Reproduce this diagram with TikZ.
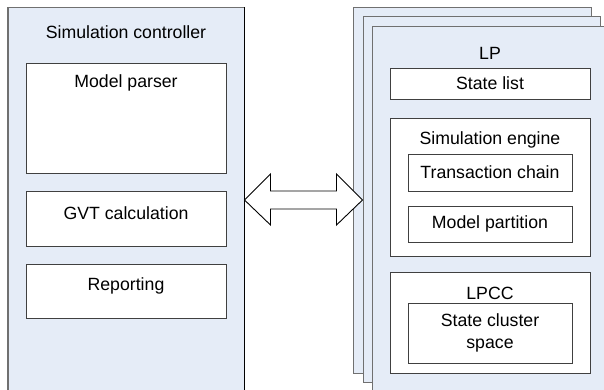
\documentclass[tikz,border=0pt]{standalone}
\usepackage{fontspec}
\setmainfont{Liberation Sans}
\definecolor{panelfill}{HTML}{E5ECF7}
\definecolor{panelline}{HTML}{707070}
\definecolor{boxline}{HTML}{404040}
\begin{document}
\begin{tikzpicture}[x=1pt,y=-1pt,
  every node/.style={font=\fontsize{17.7}{21}\selectfont, inner sep=0pt},
  panel/.style={draw=panelline, fill=panelfill, line width=1pt, rectangle},
  inbox/.style={draw=boxline, fill=white, line width=0.9pt, rectangle},
  lbl/.style={text=black}]
\useasboundingbox (0,0) rectangle (604,390);
\clip (0,0) rectangle (604,390);
% left panel
\node[panel, minimum width=236pt, minimum height=392pt] (sc) at (126,204) {};
\draw[black, line width=1pt] (sc.north east) -- (sc.south east);
\draw[panelline, line width=2pt] (sc.north west) -- (sc.south west);
\node[lbl] (sctitle) at (126,32) {Simulation controller};
\node[inbox, minimum width=200pt, minimum height=110pt] (mp) at (126,118) {};
\node[lbl] (mpt) at (126,83) {Model parser};
\node[inbox, minimum width=200pt, minimum height=55pt] (gvt) at (126,218.5) {};
\node[lbl] (gvtt) at (126,213) {GVT calculation};
\node[inbox, minimum width=200pt, minimum height=54pt] (rep) at (126,291) {};
\node[lbl] (rept) at (126,286) {Reporting};
% stacked LP panels
\node[panel, minimum width=238pt, minimum height=365pt] (lp3) at (472,190.5) {};
\node[panel, minimum width=237pt, minimum height=365pt] (lp2) at (481.5,199.5) {};
\node[panel, minimum width=240pt, minimum height=373pt] (lp) at (492,213.5) {};
\node[lbl] (lpt) at (490,53) {LP};
\node[inbox, minimum width=200pt, minimum height=31pt] (sl) at (490,83.5) {State list};
\node[inbox, minimum width=200pt, minimum height=138pt] (se) at (490,187) {};
\node[lbl] (set) at (490,140) {Simulation engine};
\node[inbox, minimum width=164pt, minimum height=37pt] (tc) at (490,172.5) {Transaction chain};
\node[inbox, minimum width=164pt, minimum height=36pt] (mpa) at (490,224) {Model partition};
\node[inbox, minimum width=200pt, minimum height=101pt] (lpcc) at (490,322.5) {};
\node[lbl] (lpcct) at (490,293) {LPCC};
\node[inbox, minimum width=164pt, minimum height=60pt, align=center] (scs) at (490,333) {State cluster\\[1pt]space};
% double arrow between the controller and the LP stack
\coordinate (aL) at (sc.east |- 0,200);
\coordinate (aR) at (lp2.west |- 0,200);
\draw[black, fill=white, line width=0.9pt, line join=miter]
  (aL) -- ([shift={(26,-26)}]aL) -- ([shift={(26,-9)}]aL) -- ([shift={(-26,-9)}]aR)
  -- ([shift={(-26,-26)}]aR) -- (aR) -- ([shift={(-26,25)}]aR) -- ([shift={(-26,9)}]aR)
  -- ([shift={(26,9)}]aL) -- ([shift={(26,25)}]aL) -- cycle;
\end{tikzpicture}
\end{document}
